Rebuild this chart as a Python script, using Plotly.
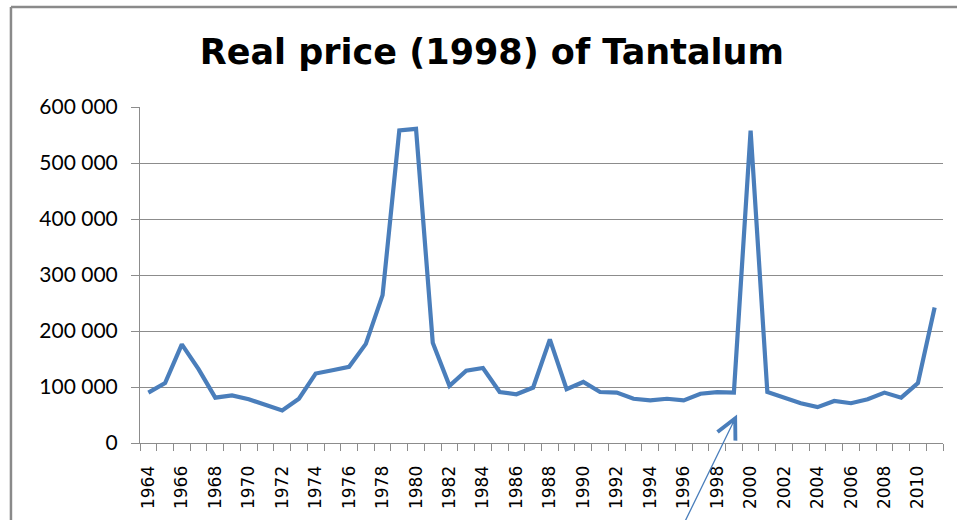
import plotly.graph_objects as go

# DATA
years = list(range(1964, 2012))
price = [
    90000, 107000, 176000, 132000, 81000, 85000, 78000, 68000, 58000, 79000,
    124000, 130000, 136000, 177000, 264000, 558000, 561000, 179000, 102000, 129000,
    134000, 91000, 87000, 99000, 185000, 96000, 109000, 91000, 90000, 79000,
    76000, 79000, 76000, 88000, 91000, 90000, 558000, 91000, 81000, 71000,
    64000, 75000, 71000, 78000, 90000, 81000, 107000, 242000,
]
label_years = list(range(1964, 2012, 2))

line_col = "#4a7ebb"
grid_col = "#8c8c8c"

fig = go.Figure()
fig.add_trace(go.Scatter(
    x=years, y=price, mode="lines",
    line=dict(color=line_col, width=4.2),
    hoverinfo="x+y",
))

# arrow pointing at 1999
fig.add_annotation(
    x=1999.19, y=50800, ax=1995.85, ay=-154000,
    xref="x", yref="y", axref="x", ayref="y",
    showarrow=True, arrowhead=5, arrowsize=3.0, arrowwidth=1.3,
    arrowcolor=line_col, standoff=0, text="",
)

# frame of the slide crop (top and left edges)
fig.add_shape(type="line", xref="paper", yref="paper",
              x0=-0.1607, x1=1.05, y0=1.2975, y1=1.2975,
              line=dict(color="#8a8a8a", width=2.5))
fig.add_shape(type="line", xref="paper", yref="paper",
              x0=-0.1607, x1=-0.1607, y0=1.2975, y1=-0.3,
              line=dict(color="#8a8a8a", width=2.5))

fig.update_layout(
    width=957, height=520,
    margin=dict(l=140, r=14, t=107, b=77),
    paper_bgcolor="white", plot_bgcolor="white",
    showlegend=False,
    separators=". ",
    title=dict(
        text="<b>Real price (1998) of Tantalum</b>",
        font=dict(family="DejaVu Sans", size=35, color="black"),
        x=0.514, xanchor="center", xref="container",
        y=0.9, yanchor="middle", yref="container",
    ),
    xaxis=dict(
        range=[1963.5, 2011.5],
        tickvals=label_years,
        ticktext=[str(y) for y in label_years],
        tickangle=-90,
        ticks="outside", ticklen=15, tickcolor="rgba(0,0,0,0)",
        tickfont=dict(family="DejaVu Sans", size=17, color="black"),
        showgrid=False, zeroline=False,
        showline=True, linecolor=grid_col, linewidth=1,
        minor=dict(ticks="outside", ticklen=7, tickcolor=grid_col,
                   tick0=1963.5, dtick=1, showgrid=False),
    ),
    yaxis=dict(
        range=[0, 600000],
        tickvals=[0, 100000, 200000, 300000, 400000, 500000, 600000],
        tickformat=",d",
        ticks="outside", ticklen=8, tickcolor=grid_col,
        ticklabelstandoff=9,
        tickfont=dict(family="Lato", size=21, color="black"),
        showgrid=True, gridcolor=grid_col, gridwidth=1,
        zeroline=False,
        showline=True, linecolor=grid_col, linewidth=1,
    ),
)

fig.write_html("out.html", config={"displayModeBar": False},
               post_script="document.body.style.margin='0';")
